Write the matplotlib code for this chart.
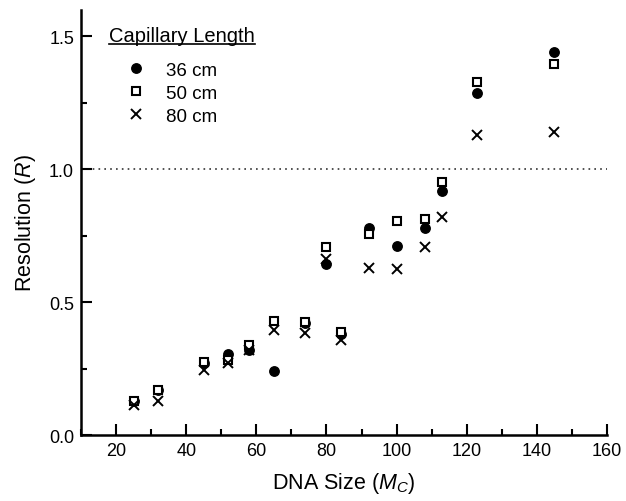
import matplotlib
matplotlib.use("Agg")
import matplotlib.pyplot as plt
from matplotlib.lines import Line2D
from matplotlib.ticker import MultipleLocator, FormatStrFormatter

plt.rcParams["font.family"] = ["Liberation Sans", "DejaVu Sans"]
plt.rcParams["mathtext.fontset"] = "custom"
plt.rcParams["mathtext.rm"] = "Liberation Sans"
plt.rcParams["mathtext.it"] = "Liberation Sans:italic"

# DNA size (Mc) and resolution per capillary length
size = [25, 32, 45, 52, 58, 65, 74, 80, 84, 92, 100, 108, 113, 123, 145]
r36 = [0.13, 0.17, 0.27, 0.305, 0.32, 0.24, 0.42, 0.643, 0.38, 0.78, 0.712, 0.778, 0.917, 1.286, 1.442]
r50 = [0.13, 0.17, 0.277, 0.283, 0.34, 0.43, 0.425, 0.709, 0.387, 0.756, 0.806, 0.813, 0.951, 1.327, 1.396]
r80 = [0.114, 0.129, 0.246, 0.27, 0.32, 0.396, 0.383, 0.662, 0.358, 0.63, 0.624, 0.709, 0.82, 1.127, 1.139]
labels = ["36 cm", "50 cm", "80 cm"]

# marker styles (circle / open square / cross)
sty36 = dict(ls="none", marker="o", ms=6.8, mfc="black", mec="black")
sty50 = dict(ls="none", marker="s", ms=6.0, mfc="white", mec="black", mew=1.5)
sty80 = dict(ls="none", marker="x", ms=7.5, mec="black", mew=1.4)

fig = plt.figure(figsize=(6.26, 5.02), dpi=100)
ax = fig.add_axes([0.1294, 0.131, 0.8403, 0.848])

ax.axhline(1.0, color="#333333", lw=1.2, ls=(0, (1, 2.5)), zorder=1)
ax.plot(size, r36, zorder=2, **sty36)
ax.plot(size, r50, zorder=3, **sty50)
ax.plot(size, r80, zorder=4, **sty80)

ax.set_xlim(10, 160)
ax.set_ylim(0, 1.6)
ax.xaxis.set_major_locator(MultipleLocator(20))
ax.xaxis.set_minor_locator(MultipleLocator(10))
ax.yaxis.set_major_locator(MultipleLocator(0.5))
ax.yaxis.set_minor_locator(MultipleLocator(0.25))
ax.yaxis.set_major_formatter(FormatStrFormatter("%.1f"))
for s in ("top", "right"):
    ax.spines[s].set_visible(False)
for s in ("left", "bottom"):
    ax.spines[s].set_linewidth(1.8)
ax.tick_params(which="major", direction="in", length=8, width=1.5, labelsize=13, pad=5)
ax.tick_params(which="minor", direction="in", length=4.5, width=1.5)

ax.set_xlabel("DNA Size ($M_C$)", fontsize=15.5, labelpad=8)
ax.set_ylabel("Resolution ($R$)", fontsize=15.5, labelpad=8)

handles = [Line2D([], [], **sty36), Line2D([], [], **sty50), Line2D([], [], **sty80)]
leg = ax.legend(handles, labels, title="Capillary Length", loc="upper left",
                bbox_to_anchor=(0.053, 0.962), frameon=False, fontsize=13.5,
                title_fontsize=14.5, alignment="left", handlelength=2.9,
                handletextpad=0.15, labelspacing=0.32, borderpad=0, borderaxespad=0)
leg._legend_box.sep = 12

# underline the legend title
fig.canvas.draw()
bb = leg.get_title().get_window_extent().transformed(ax.transAxes.inverted())
ax.plot([bb.x0, bb.x1], [bb.y0 + 0.002, bb.y0 + 0.002], color="black", lw=1.2,
        transform=ax.transAxes, clip_on=False)

fig.savefig("out.png", dpi=100)
